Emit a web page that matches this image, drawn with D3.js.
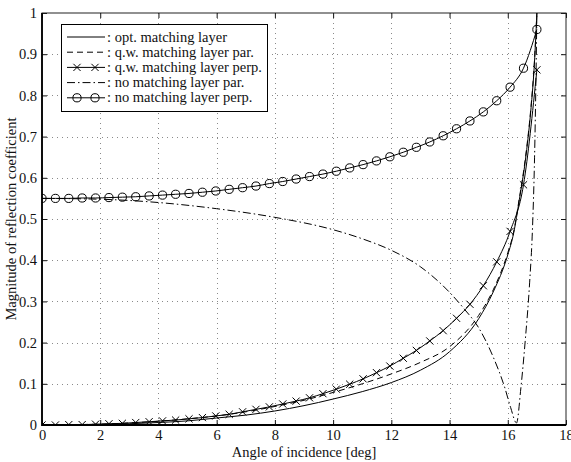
<!DOCTYPE html>
<html>
<head>
<meta charset="utf-8">
<script src="https://cdn.jsdelivr.net/npm/d3@7"></script>
<style>
  body { margin: 0; background: #fff; }
  svg { display: block; font-family: "Liberation Serif", "DejaVu Serif", serif; }
</style>
</head>
<body>
<svg width="571" height="462"></svg>
<script>
// angles where the markers sit (deg)
var markerAngles = [0, 0.46, 0.92, 1.38, 1.84, 2.30, 2.76, 3.22, 3.68, 4.14, 4.59, 5.05, 5.51, 5.97,
  6.43, 6.89, 7.35, 7.81, 8.27, 8.73, 9.19, 9.65, 10.11, 10.57, 11.03, 11.49, 11.95, 12.41,
  12.86, 13.32, 13.78, 14.24, 14.70, 15.16, 15.62, 16.08, 16.54, 17.0];

// q.w. matching layer perp. (x markers)
var qwPerp = [0.000, 0.000, 0.001, 0.001, 0.002, 0.003, 0.004, 0.006, 0.008, 0.010, 0.012, 0.015, 0.018, 0.022,
  0.026, 0.032, 0.038, 0.044, 0.051, 0.058, 0.066, 0.076, 0.087, 0.099, 0.112, 0.127, 0.143, 0.162,
  0.181, 0.204, 0.229, 0.259, 0.293, 0.338, 0.396, 0.470, 0.583, 0.862];

// no matching layer perp. (circle markers)
var noPerp = [0.550, 0.550, 0.550, 0.551, 0.551, 0.552, 0.553, 0.554, 0.556, 0.558, 0.560, 0.562, 0.565, 0.568,
  0.572, 0.576, 0.580, 0.586, 0.591, 0.597, 0.603, 0.609, 0.616, 0.624, 0.632, 0.641, 0.651, 0.662,
  0.674, 0.687, 0.702, 0.719, 0.738, 0.760, 0.787, 0.820, 0.866, 0.960];

// opt. matching layer (solid) and q.w. matching layer par. (dashed)
var optAngles = [0, 1, 2, 3, 4, 5, 6, 7, 8, 9, 10, 11, 12, 13, 14, 15, 15.5, 16, 16.2, 16.4, 16.6, 16.8, 16.9, 17.0];
var optMatch  = [0, 0.000, 0.001, 0.003, 0.006, 0.010, 0.017, 0.024, 0.034, 0.047, 0.063, 0.081, 0.103, 0.133,
  0.178, 0.258, 0.323, 0.413, 0.465, 0.548, 0.640, 0.770, 0.860, 1.0];
var qwPar     = [0, 0.001, 0.002, 0.005, 0.009, 0.015, 0.022, 0.032, 0.045, 0.060, 0.079, 0.100, 0.124, 0.152,
  0.190, 0.266, 0.328, 0.418, 0.468, 0.552, 0.645, 0.775, 0.865, 1.0];

// no matching layer par. (dash-dot)
var noParAngles = [0, 2, 4, 6, 8, 10, 11, 12, 13, 14, 14.5, 15, 15.5, 15.9, 16.1, 16.3, 16.45, 16.6, 16.75, 16.85, 16.92, 16.97, 17.0];
var noPar       = [0.550, 0.548, 0.540, 0.525, 0.504, 0.474, 0.452, 0.424, 0.384, 0.322, 0.282, 0.236, 0.165,
  0.090, 0.042, 0.005, 0.090, 0.205, 0.345, 0.480, 0.650, 0.850, 1.0];

var xTicks = [0, 2, 4, 6, 8, 10, 12, 14, 16, 18];
var yTicks = [0, 0.1, 0.2, 0.3, 0.4, 0.5, 0.6, 0.7, 0.8, 0.9, 1];

var legendLabels = [": opt. matching layer", ": q.w. matching layer par.", ": q.w. matching layer perp.",
  ": no matching layer par.", ": no matching layer perp."];

var svg = d3.select("svg"),
    pL = 42, pR = 566, pT = 13, pB = 425,
    fs = 14.5;

var x = d3.scaleLinear().domain([0, 18]).range([pL, pR]);
var y = d3.scaleLinear().domain([0, 1]).range([pB, pT]);

svg.append("defs").append("clipPath").attr("id", "clip")
   .append("rect").attr("x", pL).attr("y", pT - 1)
   .attr("width", pR - pL).attr("height", pB - pT + 2);

// dotted grid
var grid = svg.append("g").attr("stroke", "#8a8a8a").attr("stroke-width", 1).attr("stroke-dasharray", "1,4");
grid.selectAll(".gx").data(xTicks.slice(1, -1)).enter().append("line")
    .attr("x1", d => Math.round(x(d)) + 0.5).attr("x2", d => Math.round(x(d)) + 0.5)
    .attr("y1", pT).attr("y2", pB);
grid.selectAll(".gy").data(yTicks.slice(1, -1)).enter().append("line")
    .attr("y1", d => Math.round(y(d)) + 0.5).attr("y2", d => Math.round(y(d)) + 0.5)
    .attr("x1", pL).attr("x2", pR);

// axes, MATLAB style: ticks inside on all four sides
svg.append("g").attr("transform", "translate(0," + pB + ")")
   .call(d3.axisBottom(x).tickValues(xTicks).tickSizeInner(-5).tickSizeOuter(0).tickPadding(5))
   .call(g => g.select(".domain").remove());
svg.append("g").attr("transform", "translate(0," + pT + ")")
   .call(d3.axisTop(x).tickValues(xTicks).tickSizeInner(-5).tickSizeOuter(0).tickFormat(""))
   .call(g => g.select(".domain").remove());
svg.append("g").attr("transform", "translate(" + pL + ",0)")
   .call(d3.axisLeft(y).tickValues(yTicks).tickSizeInner(-5).tickSizeOuter(0).tickPadding(5)
     .tickFormat(d => d === 0 ? "0" : d === 1 ? "1" : d3.format(".1f")(d)))
   .call(g => g.select(".domain").remove());
svg.append("g").attr("transform", "translate(" + pR + ",0)")
   .call(d3.axisRight(y).tickValues(yTicks).tickSizeInner(-5).tickSizeOuter(0).tickFormat(""))
   .call(g => g.select(".domain").remove());

svg.selectAll(".tick text").attr("font-size", fs).attr("fill", "#111")
   .attr("font-family", "Liberation Serif");
svg.selectAll(".tick line").attr("stroke", "#111");

svg.append("rect").attr("x", pL).attr("y", pT)
   .attr("width", pR - pL).attr("height", pB - pT)
   .attr("fill", "none").attr("stroke", "#222").attr("stroke-width", 1);
svg.append("path")
   .attr("d", "M" + pL + "," + pT + "V" + pB + "H" + pR)
   .attr("fill", "none").attr("stroke", "#000").attr("stroke-width", 1.8);

// curves
var line = d3.line().curve(d3.curveMonotoneX).x(d => x(d[0])).y(d => y(d[1]));
var plot = svg.append("g").attr("clip-path", "url(#clip)")
   .attr("fill", "none").attr("stroke", "#000").attr("stroke-width", 1);

plot.append("path").attr("d", line(d3.zip(optAngles, optMatch)));
plot.append("path").attr("d", line(d3.zip(optAngles, qwPar))).attr("stroke-dasharray", "6,4");
plot.append("path").attr("d", line(d3.zip(markerAngles, qwPerp)));
plot.append("path").attr("d", line(d3.zip(noParAngles, noPar))).attr("stroke-dasharray", "8,3,1.5,3");
plot.append("path").attr("d", line(d3.zip(markerAngles, noPerp)));

function cross(cx, cy) {
  var s = 3.6;
  return "M" + (cx - s) + "," + (cy - s) + "L" + (cx + s) + "," + (cy + s) +
         "M" + (cx - s) + "," + (cy + s) + "L" + (cx + s) + "," + (cy - s);
}

plot.selectAll(".xm").data(d3.zip(markerAngles, qwPerp)).enter().append("path")
    .attr("d", d => cross(x(d[0]), y(d[1])));
plot.selectAll(".om").data(d3.zip(markerAngles, noPerp)).enter().append("circle")
    .attr("cx", d => x(d[0])).attr("cy", d => y(d[1])).attr("r", 4.1);

// legend
var lg = svg.append("g");
lg.append("rect").attr("x", 61.5).attr("y", 24.5).attr("width", 206).attr("height", 87)
  .attr("fill", "#fff").attr("stroke", "#000").attr("stroke-width", 1);
var dashes = [null, "6,4", null, "8,3,1.5,3", null];
legendLabels.forEach(function(t, i) {
  var ly = 37 + i * 15.2;
  lg.append("line").attr("x1", 67).attr("x2", 105).attr("y1", ly).attr("y2", ly)
    .attr("stroke", "#000").attr("stroke-width", 1).attr("stroke-dasharray", dashes[i]);
  if (i === 2) {
    [77, 95].forEach(function(mx) {
      lg.append("path").attr("d", cross(mx, ly)).attr("stroke", "#000").attr("fill", "none");
    });
  }
  if (i === 4) {
    [77, 95].forEach(function(mx) {
      lg.append("circle").attr("cx", mx).attr("cy", ly).attr("r", 4.1)
        .attr("stroke", "#000").attr("fill", "none");
    });
  }
  lg.append("text").attr("x", 107).attr("y", ly + 4.5).attr("font-size", fs).attr("fill", "#111").text(t);
});

// axis titles
svg.append("text").attr("x", (pL + pR) / 2).attr("y", 457)
   .attr("text-anchor", "middle").attr("font-size", fs).attr("fill", "#111")
   .text("Angle of incidence [deg]");
svg.append("text").attr("transform", "translate(16," + (pT + pB) / 2 + ") rotate(-90)")
   .attr("text-anchor", "middle").attr("font-size", fs).attr("fill", "#111")
   .text("Magnitude of reflection coefficient");
</script>
</body>
</html>
